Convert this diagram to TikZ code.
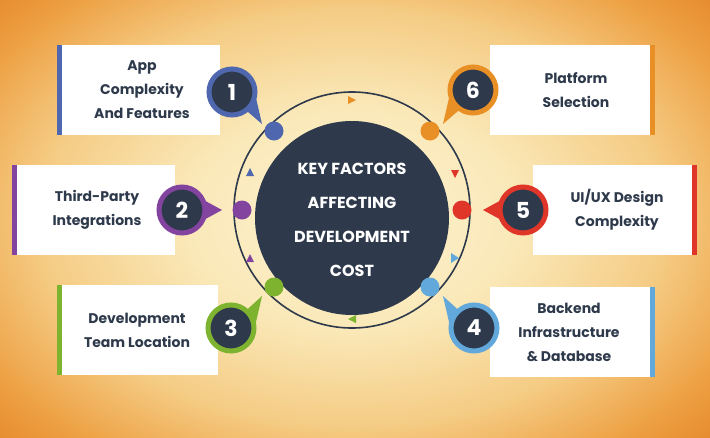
\documentclass[tikz,border=0pt]{standalone}
\usepackage{fontspec}
\setmainfont{Poppins}
\definecolor{dk}{HTML}{2E3A4B}
\definecolor{cA}{HTML}{4E67AE}
\definecolor{cB}{HTML}{8344A0}
\definecolor{cC}{HTML}{7DB32E}
\definecolor{cD}{HTML}{62A8DA}
\definecolor{cE}{HTML}{E0362A}
\definecolor{cF}{HTML}{E88F25}
\pgfdeclareradialshading{bgsh}{\pgfpoint{0cm}{0cm}}{%
 rgb(0bp)=(0.99,0.95,0.82);
 rgb(7bp)=(0.98,0.91,0.72);
 rgb(13bp)=(0.96,0.80,0.52);
 rgb(18bp)=(0.93,0.62,0.25);
 rgb(23bp)=(0.86,0.46,0.11);
 rgb(50bp)=(0.86,0.46,0.11)}
\begin{document}
\begin{tikzpicture}[x=1pt,y=-1pt,
  box/.style={fill=white,draw=none},
  lbl/.style={font=\bfseries\fontsize{14}{24}\selectfont,text=dk,align=center},
  num/.style={circle,draw=#1,line width=5pt,fill=dk,minimum size=46pt,text=white,font=\bfseries\fontsize{22}{24}\selectfont},
  dot/.style={circle,fill=#1,minimum size=19pt,inner sep=0pt}]
\useasboundingbox (0,0) rectangle (710,437);
\begin{scope}
\clip (0,0) rectangle (710,437);
\shade[shading=bgsh] (352,218) ellipse (600 and 400);
\end{scope}
% ring
\draw[dk,line width=1.6pt] (352,210) circle (118);
\node[circle,fill=dk,minimum size=194pt] (c) at (352,218) {};
\node[text=white,font=\bfseries\fontsize{16}{34}\selectfont,align=center] at (352,220) {KEY FACTORS\\AFFECTING\\DEVELOPMENT\\COST};
% ring arrows
\fill[cF] (348,96)--(356,100)--(348,104)--cycle;
\fill[cE] (451,170)--(459,170)--(455,178)--cycle;
\fill[cD] (451,253)--(459,258)--(451,263)--cycle;
\fill[cC] (356,315)--(348,319)--(356,323)--cycle;
\fill[cB] (250,254)--(246,262)--(254,262)--cycle;
\fill[cA] (246,176)--(254,176)--(250,168)--cycle;
% boxes
\fill[box] (57,45) rectangle (220,135); \fill[cA] (57,45) rectangle (62,135);
\fill[box] (490,45) rectangle (655,135); \fill[cF] (650,45) rectangle (655,135);
\fill[box] (12,165) rectangle (175,255); \fill[cB] (12,165) rectangle (17,255);
\fill[box] (533,165) rectangle (697,255); \fill[cE] (692,165) rectangle (697,255);
\fill[box] (57,285) rectangle (218,375); \fill[cC] (57,285) rectangle (62,375);
\fill[box] (490,287) rectangle (655,377); \fill[cD] (650,287) rectangle (655,377);
\node[lbl] (t1) at (142,90) {App\\Complexity\\And Features};
\node[lbl] (t6) at (576,90) {Platform\\Selection};
\node[lbl] (t2) at (97,210) {Third-Party\\Integrations};
\node[lbl] (t5) at (617,210) {UI/UX Design\\Complexity};
\node[lbl] (t3) at (137,330) {Development\\Team Location};
\node[lbl] (t4) at (569,332) {Backend\\Infrastructure\\\& Database};
% pointers
\fill[cA] (240,105)--(262,124)--(256,98)--cycle;
\fill[cF] (465,105)--(443,124)--(449,98)--cycle;
\fill[cB] (200,198)--(222,210)--(200,222)--cycle;
\fill[cE] (505,198)--(483,210)--(505,222)--cycle;
\fill[cC] (240,316)--(262,296)--(256,322)--cycle;
\fill[cD] (465,316)--(443,296)--(449,322)--cycle;
% numbers
\node[num=cA] (n1) at (232,92) {1};
\node[num=cF] (n6) at (473,90) {6};
\node[num=cB] (n2) at (182,210) {2};
\node[num=cE] (n5) at (523,210) {5};
\node[num=cC] (n3) at (231,328) {3};
\node[num=cD] (n4) at (474,328) {4};
% dots
\node[dot=cA] (d1) at (274,131) {};
\node[dot=cF] (d6) at (430,131) {};
\node[dot=cB] (d2) at (242,210) {};
\node[dot=cE] (d5) at (462,210) {};
\node[dot=cC] (d3) at (274,287) {};
\node[dot=cD] (d4) at (430,287) {};
\end{tikzpicture}
\end{document}
